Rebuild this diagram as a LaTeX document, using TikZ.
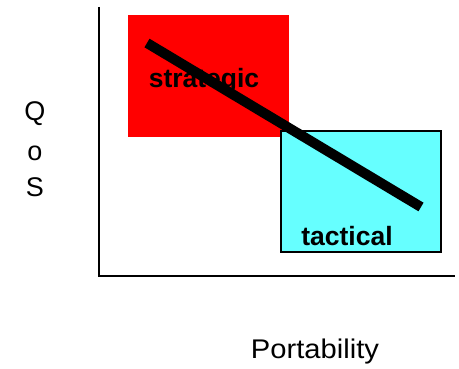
\documentclass[tikz,border=0pt]{standalone}
\usepackage{fontspec}
\setmainfont{Liberation Sans}
\begin{document}
\begin{tikzpicture}[x=1pt,y=-1pt,
  axis/.style={line width=1.5pt,black},
  lbl/.style={inner sep=0pt,font=\fontsize{27}{30}\selectfont},
  boxlbl/.style={inner sep=0pt,font=\fontsize{26.5}{30}\selectfont\bfseries}]
\useasboundingbox (0,0) rectangle (459,369);
\fill[red] (128,15) rectangle (289,137);
\draw[fill={rgb,255:red,102;green,255;blue,255},line width=1.5pt] (281,131) rectangle (441,252);
\coordinate (o) at (99,276);
\coordinate (top) at (99,7);
\coordinate (right) at (455,276);
\draw[axis] (top) -- (o) -- (right);
\coordinate (a) at (147,43);
\coordinate (b) at (421,207);
\draw[line width=10pt] (a) -- (b);
\node[boxlbl] (s) at (204,81) {strategic};
\node[boxlbl] (t) at (347,236) {tactical};
\node[lbl] (q) at (35,114) {Q};
\node[lbl] (oo) at (35,153) {o};
\node[lbl] (ss) at (35,187) {S};
\node[lbl] (p) at (315,352) {\scalebox{1.08}[1]{Portability}};
\end{tikzpicture}
\end{document}
